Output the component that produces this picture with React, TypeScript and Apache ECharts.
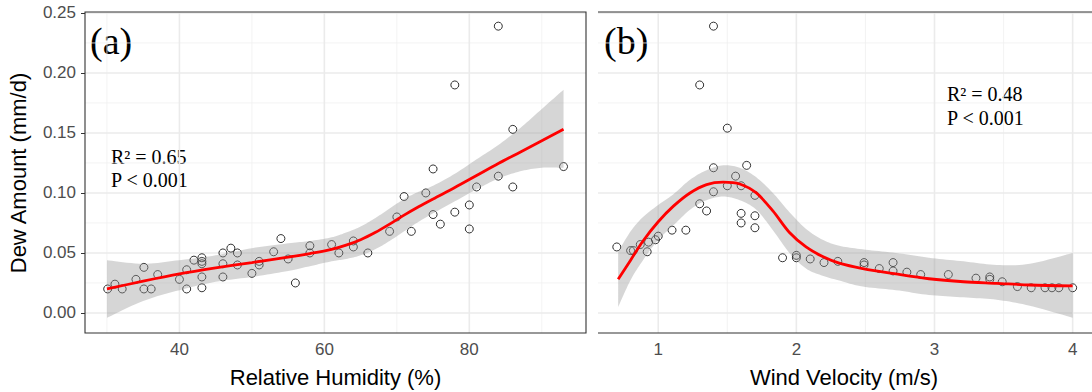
import React, { useEffect, useRef } from "react";
import * as echarts from "echarts";

// ---------- Panel (a): Relative Humidity ----------
const rhValues = [30.1, 31.1, 32.1, 34.0, 35.1, 35.1, 36.1, 37.0, 40.0, 41.0, 41.0, 42.0, 43.1, 43.1, 43.1, 43.1, 43.1, 46.0, 46.0, 46.0, 47.1, 48.0, 48.0, 50.0, 51.0, 51.0, 53.0, 54.0, 55.0, 56.0, 58.0, 58.0, 61.0, 62.0, 64.0, 64.0, 66.0, 69.0, 70.0, 71.0, 72.0, 74.0, 75.0, 75.0, 76.0, 78.0, 78.0, 80.0, 80.0, 81.0, 84.0, 84.0, 86.0, 86.0, 93.0];
const dewByRH = [0.020, 0.024, 0.020, 0.028, 0.038, 0.020, 0.020, 0.032, 0.028, 0.036, 0.020, 0.044, 0.046, 0.043, 0.041, 0.030, 0.021, 0.050, 0.041, 0.030, 0.054, 0.050, 0.040, 0.033, 0.043, 0.040, 0.051, 0.062, 0.045, 0.025, 0.056, 0.050, 0.057, 0.050, 0.060, 0.055, 0.050, 0.068, 0.080, 0.097, 0.068, 0.100, 0.082, 0.120, 0.074, 0.084, 0.190, 0.090, 0.070, 0.105, 0.114, 0.239, 0.105, 0.153, 0.122];
const rhFitX = [30, 35, 40, 45, 50, 55, 58, 61, 63, 65, 67, 69, 71, 73, 75, 78, 81, 84, 87, 90, 93];
const rhFitY = [0.020, 0.0265, 0.0325, 0.0375, 0.042, 0.0465, 0.0495, 0.053, 0.0565, 0.061, 0.067, 0.074, 0.0815, 0.0885, 0.095, 0.1045, 0.1145, 0.1245, 0.134, 0.1435, 0.153];
const rhLower = [-0.004, 0.010, 0.019, 0.026, 0.030, 0.035, 0.039, 0.043, 0.045, 0.048, 0.053, 0.060, 0.068, 0.076, 0.083, 0.093, 0.103, 0.112, 0.118, 0.121, 0.121];
const rhUpper = [0.044, 0.041, 0.044, 0.048, 0.054, 0.058, 0.060, 0.063, 0.067, 0.072, 0.079, 0.087, 0.095, 0.101, 0.106, 0.116, 0.128, 0.140, 0.154, 0.170, 0.186];

// ---------- Panel (b): Wind Velocity ----------
const wvValues = [0.70, 0.80, 0.82, 0.87, 0.92, 0.93, 0.98, 1.00, 1.10, 1.20, 1.30, 1.30, 1.35, 1.40, 1.40, 1.40, 1.50, 1.50, 1.56, 1.60, 1.60, 1.60, 1.64, 1.70, 1.70, 1.70, 1.90, 2.00, 2.00, 2.10, 2.20, 2.30, 2.49, 2.49, 2.60, 2.70, 2.70, 2.80, 2.90, 3.10, 3.30, 3.40, 3.40, 3.49, 3.60, 3.70, 3.80, 3.85, 3.90, 4.00];
const dewByWV = [0.055, 0.052, 0.052, 0.057, 0.051, 0.059, 0.061, 0.064, 0.069, 0.069, 0.091, 0.190, 0.085, 0.101, 0.121, 0.239, 0.106, 0.154, 0.114, 0.106, 0.083, 0.075, 0.123, 0.098, 0.081, 0.071, 0.046, 0.048, 0.046, 0.045, 0.042, 0.043, 0.042, 0.040, 0.037, 0.042, 0.035, 0.034, 0.032, 0.032, 0.029, 0.030, 0.028, 0.026, 0.022, 0.021, 0.021, 0.021, 0.021, 0.021];
const wvFitX = [0.71, 0.80, 0.89, 1.00, 1.11, 1.23, 1.35, 1.47, 1.59, 1.71, 1.83, 1.95, 2.07, 2.19, 2.31, 2.48, 2.72, 2.96, 3.21, 3.45, 3.69, 4.00];
const wvFitY = [0.028, 0.044, 0.060, 0.076, 0.089, 0.100, 0.107, 0.109, 0.1075, 0.100, 0.085, 0.067, 0.055, 0.047, 0.0415, 0.037, 0.0325, 0.0285, 0.026, 0.0247, 0.0233, 0.0225];
const wvLower = [0.005, 0.0275, 0.044, 0.061, 0.073, 0.086, 0.094, 0.097, 0.094, 0.086, 0.069, 0.050, 0.037, 0.031, 0.027, 0.022, 0.019, 0.015, 0.013, 0.011, 0.006, -0.004];
const wvUpper = [0.051, 0.068, 0.080, 0.090, 0.099, 0.111, 0.119, 0.123, 0.121, 0.113, 0.100, 0.084, 0.070, 0.061, 0.056, 0.053, 0.050, 0.046, 0.043, 0.040, 0.041, 0.050];

// ---------- Ticks ----------
const yTicks = [0, 0.05, 0.1, 0.15, 0.2, 0.25];
const yMinor = [0.025, 0.075, 0.125, 0.175, 0.225];
const rhTicks = [40, 60, 80];
const rhMinor = [30, 50, 70, 90];
const wvTicks = [1, 2, 3, 4];
const wvMinor = [1.5, 2.5, 3.5];

const Y_MIN = -0.0167;
const Y_MAX = 0.2508;
const RH_MIN = 26.97;
const RH_MAX = 96.1;
const WV_MIN = 0.564;
const WV_MAX = 4.14;

const SANS = "Liberation Sans, Arial, sans-serif";
const SERIF = "Liberation Serif, Times New Roman, serif";

// Catmull-Rom rendering of pixel points (drawing only)
function spline(pts: number[][], steps = 10): number[][] {
  const out: number[][] = [];
  const n = pts.length;
  for (let i = 0; i < n - 1; i++) {
    const p0 = pts[Math.max(0, i - 1)], p1 = pts[i], p2 = pts[i + 1], p3 = pts[Math.min(n - 1, i + 2)];
    for (let s = 0; s < steps; s++) {
      const t = s / steps, t2 = t * t, t3 = t2 * t;
      const f = (a: number, b: number, c: number, d: number) =>
        0.5 * (2 * b + (-a + c) * t + (2 * a - 5 * b + 4 * c - d) * t2 + (-a + 3 * b - 3 * c + d) * t3);
      out.push([f(p0[0], p1[0], p2[0], p3[0]), f(p0[1], p1[1], p2[1], p3[1])]);
    }
  }
  out.push(pts[n - 1]);
  return out;
}

function gridLinesSeries(idx: number, xMajor: number[], xMinor: number[], xMid: number, fullBorder: boolean) {
  return {
    type: "custom",
    xAxisIndex: idx,
    yAxisIndex: idx,
    z: 1,
    silent: true,
    clip: false,
    data: [[xMid, 0.1]],
    renderItem: (params: any, api: any) => {
      const cs = params.coordSys;
      const children: any[] = [];
      const x0 = cs.x, y0 = cs.y, x1 = cs.x + cs.width, y1 = cs.y + cs.height;
      const v = (val: number, w: number, c: string) => {
        const p = api.coord([val, 0.1]);
        children.push({ type: "line", shape: { x1: p[0], y1: y0, x2: p[0], y2: y1 }, style: { stroke: c, lineWidth: w } });
      };
      const h = (val: number, w: number, c: string) => {
        const p = api.coord([xMid, val]);
        children.push({ type: "line", shape: { x1: x0, y1: p[1], x2: x1, y2: p[1] }, style: { stroke: c, lineWidth: w } });
      };
      xMinor.forEach((m) => v(m, 0.8, "#F0F0F0"));
      yMinor.forEach((m) => h(m, 0.8, "#F0F0F0"));
      xMajor.forEach((m) => v(m, 1.6, "#EBEBEB"));
      yTicks.forEach((m) => h(m, 1.6, "#EBEBEB"));
      if (fullBorder) {
        children.push({ type: "rect", shape: { x: x0, y: y0, width: cs.width, height: cs.height }, style: { fill: "none", stroke: "#333333", lineWidth: 1.1 } });
      } else {
        children.push({ type: "line", shape: { x1: x0, y1: y0, x2: x1 + 10, y2: y0 }, style: { stroke: "#333333", lineWidth: 1.1 } });
        children.push({ type: "line", shape: { x1: x0, y1: y1, x2: x1 + 10, y2: y1 }, style: { stroke: "#333333", lineWidth: 1.1 } });
      }
      return { type: "group", children };
    },
  };
}

function bandSeries(idx: number, xs: number[], lo: number[], hi: number[]) {
  return {
    type: "custom",
    xAxisIndex: idx,
    yAxisIndex: idx,
    z: 3,
    silent: true,
    data: [[xs[0], hi[0]]],
    renderItem: (params: any, api: any) => {
      const up = spline(xs.map((x, i) => api.coord([x, hi[i]])));
      const dn = spline(xs.map((x, i) => api.coord([x, lo[i]]))).reverse();
      return { type: "polygon", shape: { points: up.concat(dn) }, style: { fill: "rgba(153,153,153,0.4)", stroke: "none" } };
    },
  };
}

function scatterSeries(idx: number, xs: number[], ys: number[]) {
  return {
    type: "scatter",
    xAxisIndex: idx,
    yAxisIndex: idx,
    z: 2,
    symbol: "circle",
    symbolSize: 8,
    itemStyle: { color: "rgba(0,0,0,0)", borderColor: "#000000", borderWidth: 1 },
    data: xs.map((x, i) => [x, ys[i]]),
  };
}

function fitSeries(idx: number, xs: number[], ys: number[]) {
  return {
    type: "line",
    xAxisIndex: idx,
    yAxisIndex: idx,
    z: 4,
    smooth: 0.3,
    showSymbol: false,
    lineStyle: { color: "#FF0000", width: 2.8 },
    data: xs.map((x, i) => [x, ys[i]]),
  };
}

function xAxisDef(idx: number, min: number, max: number, ticks: number[]) {
  return {
    gridIndex: idx,
    type: "value",
    min,
    max,
    axisLine: { show: false },
    splitLine: { show: false },
    axisTick: { show: true, customValues: ticks, length: 4, lineStyle: { color: "#333333", width: 1 } },
    axisLabel: { customValues: ticks, color: "#4D4D4D", fontSize: 17, fontFamily: SANS, margin: 8, formatter: (v: number) => String(Math.round(v)) },
  };
}

export default function App() {
  const ref = useRef<HTMLDivElement>(null);
  useEffect(() => {
    const chart = echarts.init(ref.current as HTMLDivElement, null, { renderer: "svg" });
    const option: any = {
      animation: false,
      backgroundColor: "#ffffff",
      grid: [
        { left: 85, top: 12, width: 501, height: 321 },
        { left: 598, top: 12, width: 494, height: 321 },
      ],
      xAxis: [xAxisDef(0, RH_MIN, RH_MAX, rhTicks), xAxisDef(1, WV_MIN, WV_MAX, wvTicks)],
      yAxis: [
        {
          gridIndex: 0,
          type: "value",
          min: Y_MIN,
          max: Y_MAX,
          axisLine: { show: false },
          splitLine: { show: false },
          axisTick: { show: true, customValues: yTicks, length: 4, lineStyle: { color: "#333333", width: 1 } },
          axisLabel: { customValues: yTicks, color: "#4D4D4D", fontSize: 17, fontFamily: SANS, margin: 9, formatter: (v: number) => v.toFixed(2) },
        },
        { gridIndex: 1, type: "value", min: Y_MIN, max: Y_MAX, show: false },
      ],
      series: [
        gridLinesSeries(0, rhTicks, rhMinor, 60, true),
        gridLinesSeries(1, wvTicks, wvMinor, 2, false),
        scatterSeries(0, rhValues, dewByRH),
        scatterSeries(1, wvValues, dewByWV),
        bandSeries(0, rhFitX, rhLower, rhUpper),
        bandSeries(1, wvFitX, wvLower, wvUpper),
        fitSeries(0, rhFitX, rhFitY),
        fitSeries(1, wvFitX, wvFitY),
      ],
      graphic: [
        { type: "text", x: 18, y: 173, rotation: Math.PI / 2, style: { text: "Dew Amount (mm/d)", fontSize: 22, fontFamily: SANS, fill: "#000", align: "center", verticalAlign: "middle" } },
        { type: "text", x: 335.5, y: 377, style: { text: "Relative Humidity (%)", fontSize: 22, fontFamily: SANS, fill: "#000", align: "center", verticalAlign: "middle" } },
        { type: "text", x: 844, y: 377, style: { text: "Wind Velocity (m/s)", fontSize: 22, fontFamily: SANS, fill: "#000", align: "center", verticalAlign: "middle" } },
        { type: "text", x: 90, y: 41, style: { text: "(a)", fontSize: 38, fontFamily: SERIF, fill: "#000", align: "left", verticalAlign: "middle" } },
        { type: "text", x: 604, y: 41, style: { text: "(b)", fontSize: 38, fontFamily: SERIF, fill: "#000", align: "left", verticalAlign: "middle" } },
        { type: "text", x: 111, y: 157, style: { text: "R\u00B2 = 0.65", fontSize: 20, fontFamily: SERIF, fill: "#000", align: "left", verticalAlign: "middle" } },
        { type: "text", x: 111, y: 180, style: { text: "P < 0.001", fontSize: 20, fontFamily: SERIF, fill: "#000", align: "left", verticalAlign: "middle" } },
        { type: "text", x: 947, y: 94, style: { text: "R\u00B2 = 0.48", fontSize: 20, fontFamily: SERIF, fill: "#000", align: "left", verticalAlign: "middle" } },
        { type: "text", x: 947, y: 118, style: { text: "P < 0.001", fontSize: 20, fontFamily: SERIF, fill: "#000", align: "left", verticalAlign: "middle" } },
      ],
    };
    chart.setOption(option);
    return () => chart.dispose();
  }, []);
  return <div ref={ref} style={{ position: "absolute", left: 0, top: 0, width: 1092, height: 392 }} />;
}
